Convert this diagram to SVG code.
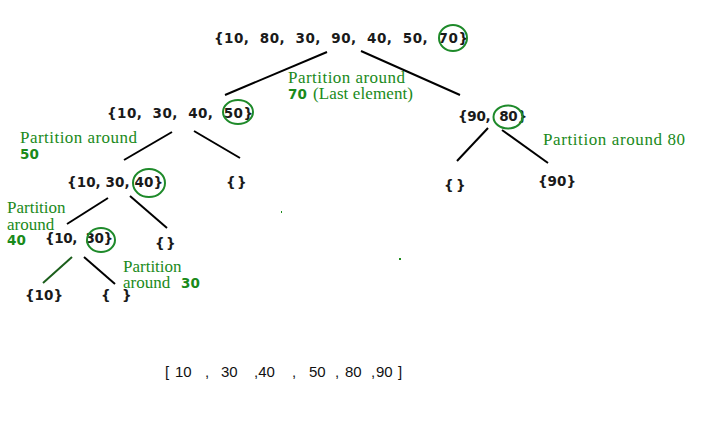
<svg xmlns="http://www.w3.org/2000/svg" width="722" height="438" viewBox="0 0 722 438">
<style>
.n{font-family:"DejaVu Sans",Verdana,sans-serif;font-weight:bold;font-size:13.5px;fill:#1a1a1a}
.g{font-family:"Liberation Serif","Times New Roman",serif;font-size:17px;fill:#1a8a1a}
.gb{font-family:"DejaVu Sans",sans-serif;font-weight:bold;font-size:13.5px;fill:#1a8a1a}
.c{fill:none;stroke:#1e8a2a;stroke-width:2}
.e{stroke:#000;stroke-width:2;fill:none}
.r{font-family:"Liberation Sans",Arial,sans-serif;font-size:15px;fill:#111}
</style>
<rect width="722" height="438" fill="#fff"/>
<g id="connectors">
<line class="e" x1="327" y1="52" x2="225" y2="95"/>
<line class="e" x1="361" y1="51" x2="460" y2="95"/>
<line class="e" x1="172" y1="132" x2="124" y2="160"/>
<line class="e" x1="194" y1="131" x2="240" y2="158"/>
<line class="e" x1="488" y1="128" x2="457" y2="161"/>
<line class="e" x1="502" y1="130" x2="548" y2="163"/>
<line class="e" x1="108" y1="198" x2="67" y2="224"/>
<line class="e" x1="130" y1="196" x2="167" y2="228"/>
<line x1="72" y1="257" x2="43" y2="283" stroke="#1b5e1b" stroke-width="2"/>
<line class="e" x1="84" y1="257" x2="115" y2="284"/>
</g>
<g id="n1">
<text class="n" x="214" y="43" textLength="254" lengthAdjust="spacing" xml:space="preserve">{10,  80,  30,  90,  40,  50,  70}</text>
<ellipse class="c" cx="453" cy="38" rx="14" ry="13"/>
</g>
<g id="label1">
<text class="g" x="288" y="83" textLength="117" lengthAdjust="spacing">Partition around</text>
<text x="288" y="99"><tspan class="gb">70</tspan><tspan class="g" x="313" textLength="100" lengthAdjust="spacing">(Last element)</tspan></text>
</g>
<g id="n2">
<text class="n" x="107" y="118" textLength="146" lengthAdjust="spacing" xml:space="preserve">{10,  30,  40,  50}</text>
<ellipse class="c" cx="238" cy="112" rx="15" ry="12"/>
</g>
<g id="n3">
<text class="n" x="458" y="121" textLength="69" lengthAdjust="spacing" xml:space="preserve">{90,  80}</text>
<ellipse class="c" cx="508" cy="117" rx="14.5" ry="11.5"/>
</g>
<g id="label80">
<text class="g" x="543" y="145" textLength="142" lengthAdjust="spacing">Partition around 80</text>
</g>
<g id="label50">
<text class="g" x="20" y="143" textLength="117" lengthAdjust="spacing">Partition around</text>
<text class="gb" x="20" y="159">50</text>
</g>
<g id="n4">
<text class="n" x="67" y="187" textLength="96" lengthAdjust="spacing" xml:space="preserve">{10, 30, 40}</text>
<ellipse class="c" cx="149" cy="183" rx="16" ry="14"/>
</g>
<g id="n5">
<text class="n" y="187"><tspan x="226">{</tspan><tspan x="237">}</tspan></text>
</g>
<g id="n6">
<text class="n" y="190"><tspan x="444">{</tspan><tspan x="456">}</tspan></text>
</g>
<g id="n7">
<text class="n" x="538" y="186">{90}</text>
</g>
<g id="label40">
<text class="g" x="7" y="213">Partition</text>
<text class="g" x="7" y="230">around</text>
<text class="gb" x="7" y="245">40</text>
</g>
<g id="n8">
<text class="n" x="45" y="243" textLength="68" lengthAdjust="spacing" xml:space="preserve">{10,  30}</text>
<ellipse class="c" cx="101" cy="240" rx="14" ry="12"/>
</g>
<g id="n9">
<text class="n" y="248"><tspan x="155">{</tspan><tspan x="166">}</tspan></text>
</g>
<g id="label30">
<text class="g" x="123" y="272">Partition</text>
<text x="123" y="288"><tspan class="g">around</tspan><tspan class="gb" x="181">30</tspan></text>
</g>
<g id="n10">
<text class="n" x="25" y="300">{10}</text>
</g>
<g id="n11">
<text class="n" y="300"><tspan x="101">{</tspan><tspan x="122">}</tspan></text>
</g>
<rect x="281" y="211" width="1" height="2" fill="#1a8a1a"/>
<rect x="399" y="258" width="2" height="2" fill="#1a8a1a"/>
<g id="result">
<text class="r" y="377"><tspan x="165">[</tspan><tspan x="175">10</tspan><tspan x="205">,</tspan><tspan x="221">30</tspan><tspan x="254">,40</tspan><tspan x="292">,</tspan><tspan x="309">50</tspan><tspan x="335">,</tspan><tspan x="345">80</tspan><tspan x="371">,</tspan><tspan x="376">90</tspan><tspan x="398">]</tspan></text>
</g>
</svg>
